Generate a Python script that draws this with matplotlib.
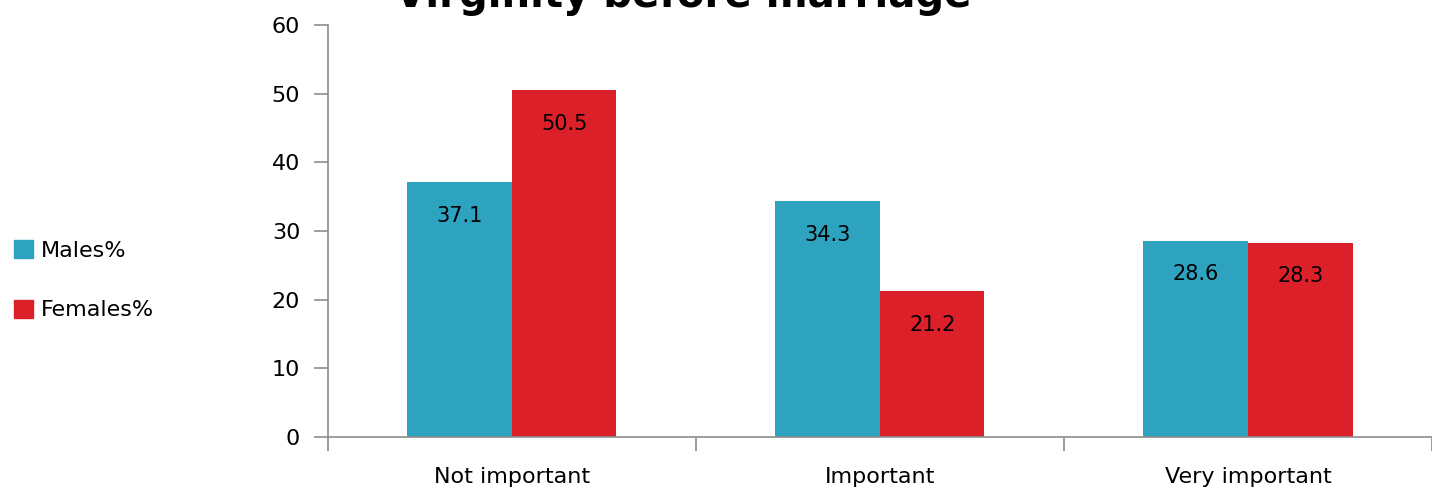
import numpy as np
import matplotlib
matplotlib.use("Agg")
import matplotlib.pyplot as plt
from matplotlib.patches import Patch

# data
categories = ["Not important", "Important", "Very important"]
males = [37.1, 34.3, 28.6]
females = [50.5, 21.2, 28.3]
series_names = ["Males%", "Females%"]
yticks = [0, 10, 20, 30, 40, 50, 60]

male_color = "#2ea3c0"
female_color = "#db202a"
axis_color = "#8c8c8c"

plt.rcParams['font.family'] = ['DejaVu Sans']

fig = plt.figure(figsize=(14.32, 4.92), dpi=100)
ax = fig.add_axes([0.229, 0.112, 0.771, 0.837])

x = np.arange(len(categories))
w = 0.284
b1 = ax.bar(x - w / 2, males, w, color=male_color)
b2 = ax.bar(x + w / 2, females, w, color=female_color)

# value labels just inside the bar tops
for bars, vals in ((b1, males), (b2, females)):
    for rect, v in zip(bars, vals):
        ax.text(rect.get_x() + rect.get_width() / 2, v - 3.4, f"{v}",
                ha='center', va='top', fontsize=15)

ax.set_xlim(-0.5, len(categories) - 0.5)
ax.set_ylim(0, 60)
ax.set_yticks(yticks)
ax.set_xticks(x)
ax.set_xticklabels(categories, fontsize=16)
ax.tick_params(axis='x', length=0, pad=22)
ax.set_xticks(np.arange(len(categories) + 1) - 0.5, minor=True)
ax.tick_params(axis='x', which='minor', length=10, color=axis_color, width=1.2)
ax.tick_params(axis='y', labelsize=16, length=10, color=axis_color, width=1.2, pad=10)

for side in ('top', 'right'):
    ax.spines[side].set_visible(False)
for side in ('left', 'bottom'):
    ax.spines[side].set_color(axis_color)
    ax.spines[side].set_linewidth(1.2)

# legend on the far left
handles = [Patch(color=male_color), Patch(color=female_color)]
fig.legend(handles, series_names, loc='center left', bbox_to_anchor=(-0.004, 0.43),
           frameon=False, fontsize=16, handlelength=0.85, handleheight=0.85,
           handletextpad=0.35, labelspacing=1.75)

# title partly cut off at the top
fig.text(0.477, 0.985, "Virginity before marriage", ha='center', va='baseline',
         fontsize=29, fontweight='bold')

fig.savefig("out.png", dpi=100)
